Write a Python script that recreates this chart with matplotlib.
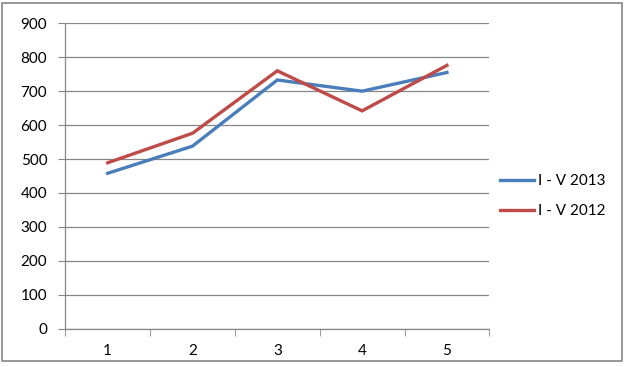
import matplotlib
matplotlib.use("Agg")
import matplotlib.pyplot as plt
from matplotlib.patches import Rectangle
import numpy as np

categories = ["1", "2", "3", "4", "5"]
series_2013 = [458, 538, 733, 700, 755]
series_2012 = [489, 576, 760, 642, 776]
labels = ["I - V 2013", "I - V 2012"]
colors = ["#4A7EBB", "#BE4B48"]

plt.rcParams['font.family'] = ['Lato', 'DejaVu Sans']

fig = plt.figure(figsize=(6.28, 3.67), dpi=100)
fig.patches.append(Rectangle((2/628, 1-361/367), 620/628, 358/367, transform=fig.transFigure,
                             fill=False, edgecolor="#868686", linewidth=1.2))
ax = fig.add_axes([65.3/628, 1-328.7/367, (489.3-65.3)/628, (328.7-23.3)/367])

x = np.arange(len(categories))
ax.plot(x, series_2013, color=colors[0], lw=2.4, label=labels[0], solid_joinstyle='miter')
ax.plot(x, series_2012, color=colors[1], lw=2.4, label=labels[1], solid_joinstyle='miter')

ax.set_xlim(-0.5, len(categories) - 0.5)
ax.set_ylim(0, 900)
ax.set_yticks(range(0, 901, 100))
ax.yaxis.grid(True, color="#868686", lw=0.9)
ax.set_axisbelow(True)
ax.set_xticks(x)
ax.set_xticklabels(categories)
ax.set_xticks(np.arange(-0.5, len(categories), 1.0), minor=True)
ax.tick_params(axis='x', which='major', length=0, pad=11, labelsize=11)
ax.tick_params(axis='x', which='minor', length=5, color="#868686", direction='out')
ax.tick_params(axis='y', length=5, color="#868686", labelsize=11, pad=8)
for s in ["top", "right"]:
    ax.spines[s].set_visible(False)
for s in ["left", "bottom"]:
    ax.spines[s].set_color("#868686")
    ax.spines[s].set_linewidth(0.9)

fig.legend(loc="upper left", bbox_to_anchor=(494/628, 1-168/367), frameon=False,
           fontsize=11, handlelength=2.2, handletextpad=0.3, labelspacing=1.05,
           borderaxespad=0)

fig.savefig("out.png", dpi=100)
